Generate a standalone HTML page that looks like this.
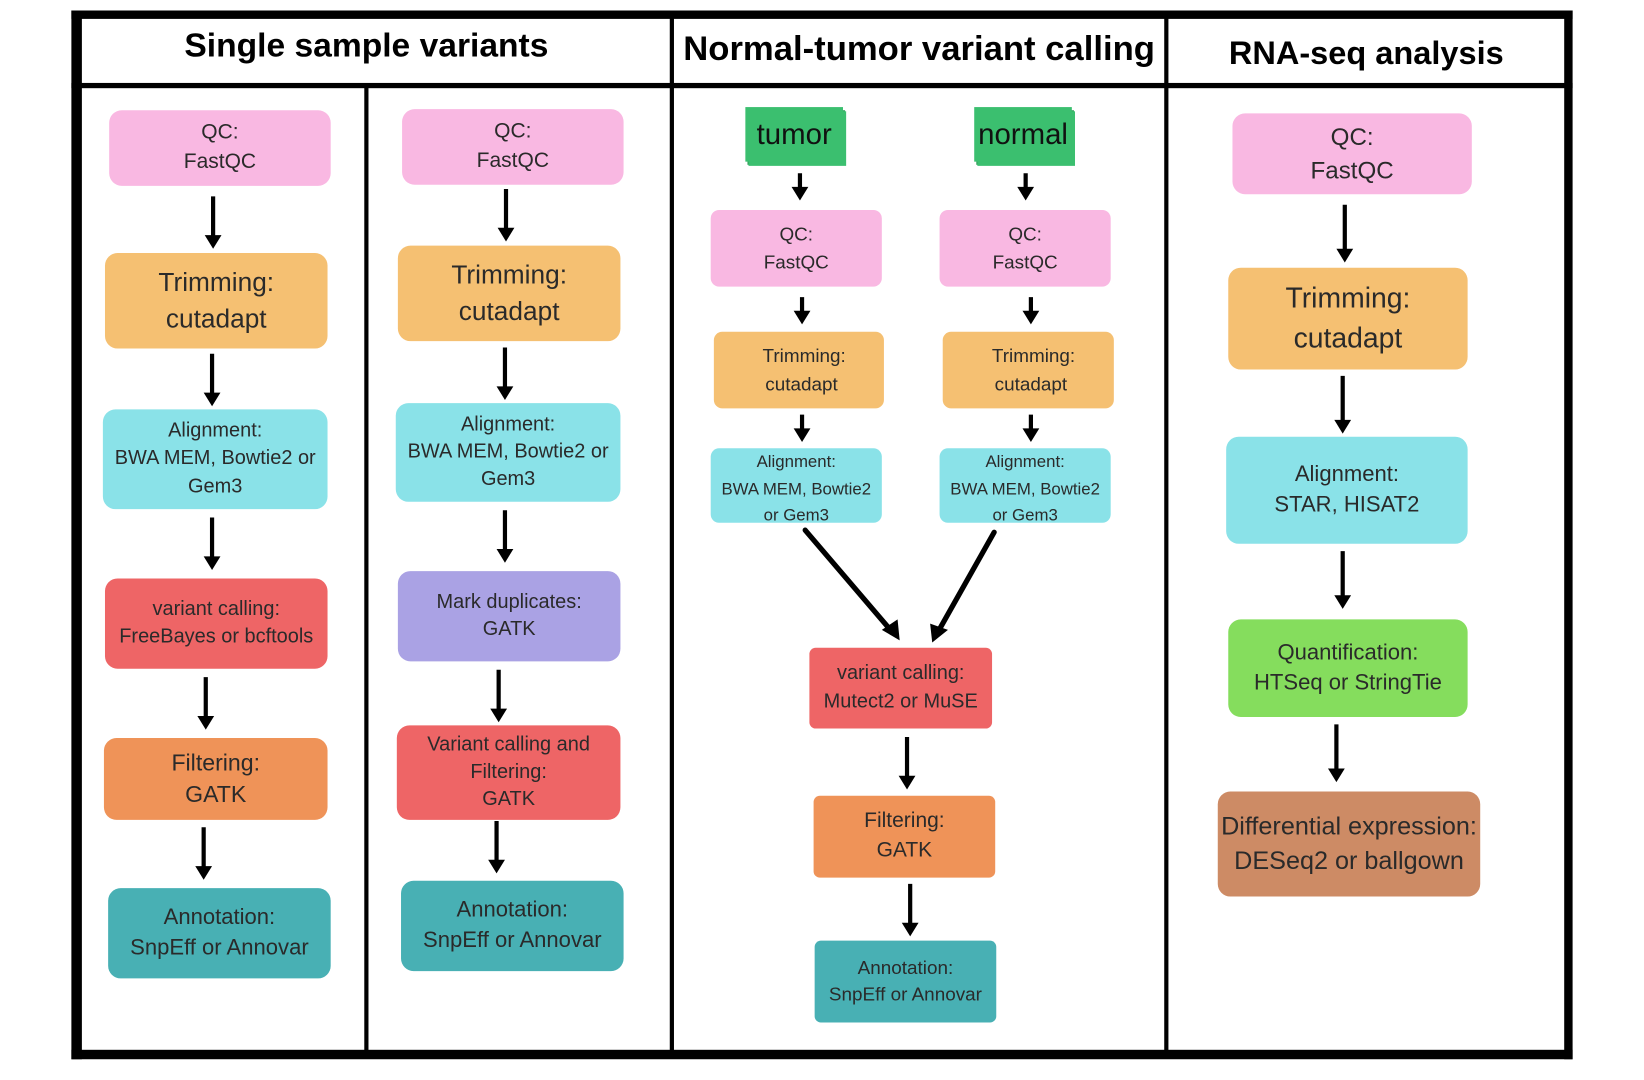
<!DOCTYPE html>
<html><head><meta charset="utf-8"><style>
html,body{margin:0;padding:0;background:#fff;overflow:hidden}
#w{position:absolute;left:0;top:0;width:1566px;height:1029px;transform:scale(1.0498);transform-origin:0 0;font-family:"Liberation Sans",sans-serif}
.b{position:absolute;display:flex;align-items:center;justify-content:center;text-align:center;color:#2a2a2a;border-radius:12px;line-height:1.38;box-sizing:border-box}
.h{position:absolute;font-weight:bold;font-size:31px;color:#000;text-align:center;white-space:nowrap}
.ln{position:absolute;background:#000}
.p{background:#f9b8e2}.o{background:#f5c072}.c{background:#8ae2e8}.r{background:#ee6566}.f{background:#ef9358}.t{background:#48b0b4}.v{background:#aaa2e4}.g{background:#85dd5d}.br{background:#cd8b65}
.gr{position:absolute;background:#3bbf6f;color:#111;font-size:28px;display:flex;align-items:center;justify-content:center;box-shadow:3px 4px 0 #3bbf6f, 2px 3px 0 #2e9a58}
</style></head><body><div id="w">
<div class="ln" style="left:68px;top:10px;width:1430px;height:8px"></div>
<div class="ln" style="left:68px;top:1000px;width:1430px;height:9px"></div>
<div class="ln" style="left:68px;top:10px;width:10px;height:999px"></div>
<div class="ln" style="left:1490px;top:10px;width:8px;height:999px"></div>
<div class="ln" style="left:68px;top:79px;width:1430px;height:5px"></div>
<div class="ln" style="left:347px;top:82px;width:4px;height:920px"></div>
<div class="ln" style="left:638px;top:14px;width:4px;height:990px"></div>
<div class="ln" style="left:1109px;top:14px;width:4px;height:990px"></div>
<div class="h" style="left:78px;width:542px;top:25px;font-size:32px">Single sample variants</div>
<div class="h" style="left:642px;width:467px;top:27px;font-size:33px">Normal-tumor variant calling</div>
<div class="h" style="left:1113px;width:377px;top:33px">RNA-seq analysis</div>

<div class="b p" style="left:104px;top:105px;width:211px;height:72px;font-size:20px">QC:<br>FastQC</div>
<div class="b o" style="left:100px;top:241px;width:212px;height:91px;font-size:25px">Trimming:<br>cutadapt</div>
<div class="b c" style="left:98px;top:390px;width:214px;height:95px;font-size:19px">Alignment:<br>BWA MEM, Bowtie2 or<br>Gem3</div>
<div class="b r" style="left:100px;top:551px;width:212px;height:86px;font-size:19px">variant calling:<br>FreeBayes or bcftools</div>
<div class="b f" style="left:99px;top:703px;width:213px;height:78px;font-size:22px">Filtering:<br>GATK</div>
<div class="b t" style="left:103px;top:846px;width:212px;height:86px;font-size:21px">Annotation:<br>SnpEff or Annovar</div>
<div class="b p" style="left:383px;top:104px;width:211px;height:72px;font-size:20px">QC:<br>FastQC</div>
<div class="b o" style="left:379px;top:234px;width:212px;height:91px;font-size:25px">Trimming:<br>cutadapt</div>
<div class="b c" style="left:377px;top:384px;width:214px;height:94px;font-size:19px">Alignment:<br>BWA MEM, Bowtie2 or<br>Gem3</div>
<div class="b v" style="left:379px;top:544px;width:212px;height:86px;font-size:19px">Mark duplicates:<br>GATK</div>
<div class="b r" style="left:378px;top:691px;width:213px;height:90px;font-size:19px">Variant calling and<br>Filtering:<br>GATK</div>
<div class="b t" style="left:382px;top:839px;width:212px;height:86px;font-size:21px">Annotation:<br>SnpEff or Annovar</div>
<div class="gr" style="left:710px;top:102px;width:93px;height:52px">tumor</div>
<div class="gr" style="left:928px;top:102px;width:93px;height:52px">normal</div>
<div class="b p" style="left:677px;top:200px;width:163px;height:73px;font-size:18px;border-radius:8px;line-height:1.5">QC:<br>FastQC</div>
<div class="b p" style="left:895px;top:200px;width:163px;height:73px;font-size:18px;border-radius:8px;line-height:1.5">QC:<br>FastQC</div>
<div class="b o" style="left:680px;top:316px;width:162px;height:73px;font-size:18px;border-radius:8px;line-height:1.5">&nbsp;&nbsp;Trimming:<br>&nbsp;cutadapt</div>
<div class="b o" style="left:898px;top:316px;width:163px;height:73px;font-size:18px;border-radius:8px;line-height:1.5">&nbsp;&nbsp;Trimming:<br>&nbsp;cutadapt</div>
<div class="b c" style="left:677px;top:427px;width:163px;height:71px;font-size:16px;line-height:1.6;border-radius:8px;padding-top:8px;white-space:nowrap">Alignment:<br>BWA MEM, Bowtie2<br>or Gem3</div>
<div class="b c" style="left:895px;top:427px;width:163px;height:71px;font-size:16px;line-height:1.6;border-radius:8px;padding-top:8px;white-space:nowrap">Alignment:<br>BWA MEM, Bowtie2<br>or Gem3</div>
<div class="b r" style="left:771px;top:617px;width:174px;height:77px;font-size:19px;border-radius:6px">variant calling:<br>Mutect2 or MuSE</div>
<div class="b f" style="left:775px;top:758px;width:173px;height:78px;font-size:20px;border-radius:6px">Filtering:<br>GATK</div>
<div class="b t" style="left:776px;top:896px;width:173px;height:78px;font-size:18px;border-radius:6px">Annotation:<br>SnpEff or Annovar</div>
<div class="b p" style="left:1174px;top:108px;width:228px;height:77px;font-size:23px">QC:<br>FastQC</div>
<div class="b o" style="left:1170px;top:255px;width:228px;height:97px;font-size:27px">Trimming:<br>cutadapt</div>
<div class="b c" style="left:1168px;top:416px;width:230px;height:102px;font-size:21px">Alignment:<br>STAR, HISAT2</div>
<div class="b g" style="left:1170px;top:590px;width:228px;height:93px;font-size:21px">Quantification:<br>HTSeq or StringTie</div>
<div class="b br" style="left:1160px;top:754px;width:250px;height:100px;font-size:24px;white-space:nowrap">Differential expression:<br>DESeq2 or ballgown</div>

<svg width="1566" height="1029" style="position:absolute;left:0;top:0" xmlns="http://www.w3.org/2000/svg">
<g stroke="#000" stroke-width="4" fill="none">
<path d="M203 187V225M202 337V375M202 493V531M196 645V683M194 788V826M482 180V218M481 331V369M481 486V524M475 638V676M473 782V820M762 165V179M977 165V179M764 283V297M982 283V297M764 395V409M982 395V409M864 702V740M867 842V880M1281 195V238M1279 358V401M1279 525V568M1273 690V733"/>
</g>
<g fill="#000">
<path d="M195 224h16l-8 13zM194 374h16l-8 13zM194 530h16l-8 13zM188 682h16l-8 13zM186 825h16l-8 13zM474 217h16l-8 13zM473 368h16l-8 13zM473 523h16l-8 13zM467 675h16l-8 13zM465 819h16l-8 13zM754 178h16l-8 13zM969 178h16l-8 13zM756 296h16l-8 13zM974 296h16l-8 13zM756 408h16l-8 13zM974 408h16l-8 13zM856 739h16l-8 13zM859 879h16l-8 13zM1273 237h16l-8 13zM1271 400h16l-8 13zM1271 567h16l-8 13zM1265 732h16l-8 13z"/>
</g>
<g stroke="#000" stroke-width="5" stroke-linecap="round"><line x1="767" y1="505" x2="849" y2="601"/><line x1="947" y1="507" x2="894" y2="601"/></g>
<path d="M857 610 L840 600 L855 590 Z" fill="#000"/>
<path d="M888 612 L886 594 L903 600 Z" fill="#000"/>
</svg>
</div></body></html>
